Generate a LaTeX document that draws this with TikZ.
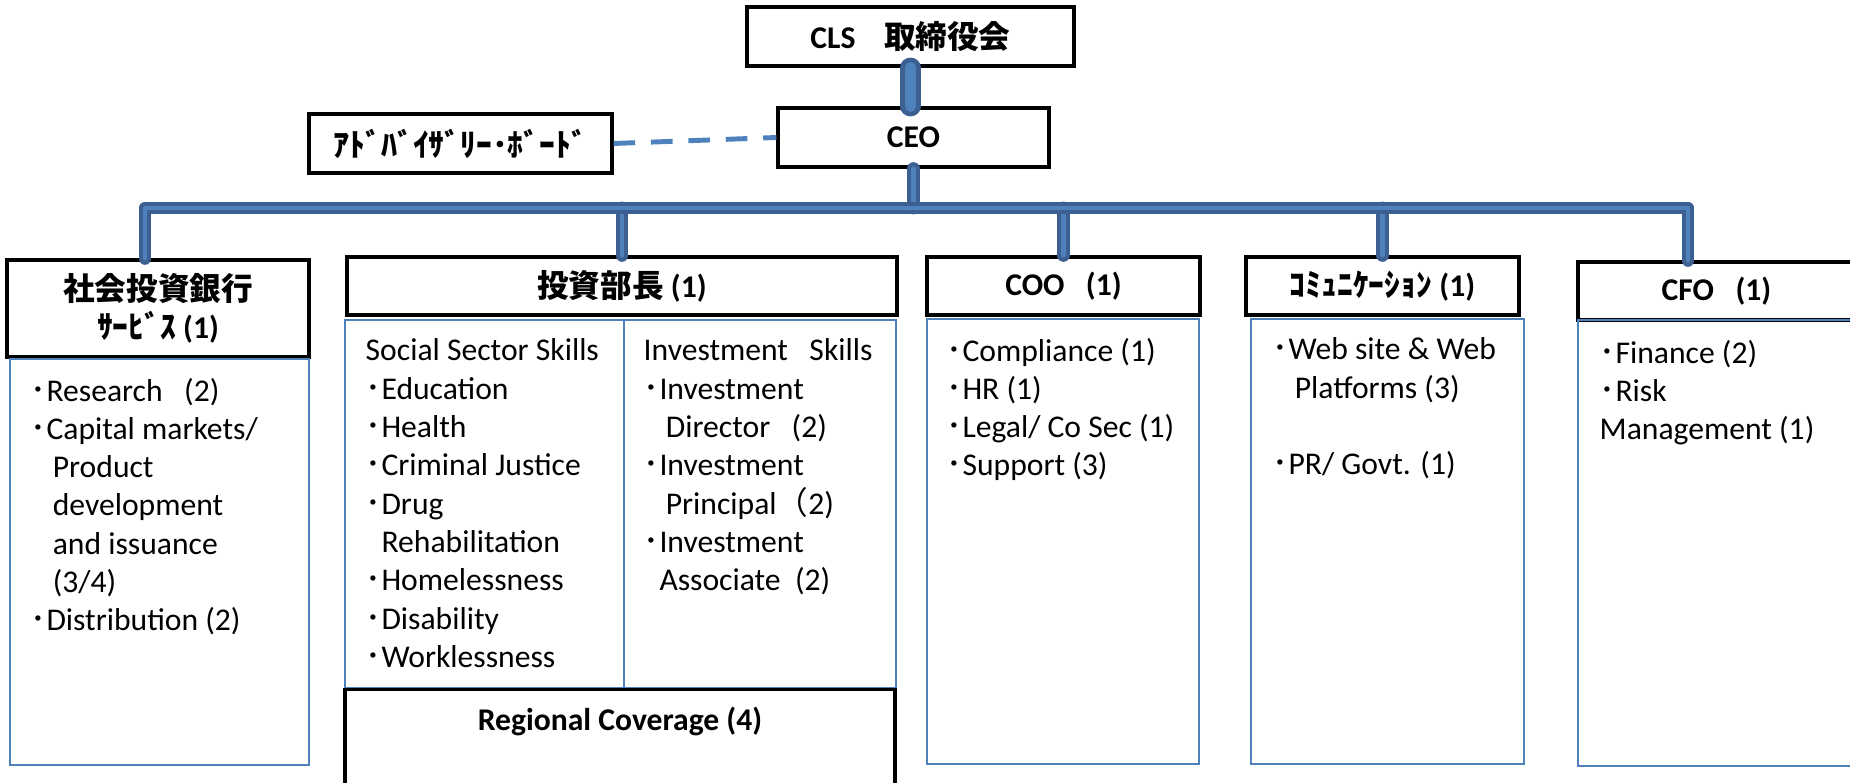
\documentclass[tikz,border=0pt]{standalone}
\usepackage{fontspec}
\setmainfont{Carlito}
\newfontfamily\jp{Noto Sans CJK JP}
\usepackage{tikz}

\definecolor{trunkdark}{RGB}{60,96,146}
\definecolor{trunklight}{RGB}{79,129,189}
\definecolor{boxblue}{RGB}{79,129,189}

\newcommand{\itm}{{\jp ･}}
\newcommand{\cont}{\hspace*{0.7em}}

\tikzset{
	hdbox/.style={rectangle, draw, line width=0.9pt, align=center, inner sep=0pt, font=\bfseries\fontsize{9}{11}\selectfont},
	bodybox/.style={rectangle, draw=boxblue, line width=0.8pt, inner sep=0pt},
	bodytext/.style={anchor=north west, align=left, inner sep=0pt, font=\fontsize{9}{10.9}\selectfont, execute at begin node=\strut},
	trunk/.style={draw=trunkdark, line width=1.25pt, double=trunklight, double distance=1.15pt, line cap=round, line join=round},
	dashlink/.style={draw=boxblue, line width=1.4pt, dash pattern=on 6.15pt off 4.5pt}
}

\begin{document}
\begin{tikzpicture}
			\path[use as bounding box, clip] (0,0) rectangle (18.5,-7.83);

			\node[hdbox, minimum width=3.27cm, minimum height=0.59cm] (cls) at(9.105,-0.365){CLS~~~~{\jp 取締役会}};
			\node[hdbox, minimum width=2.71cm, minimum height=0.59cm] (ceo) at(9.135,-1.375){CEO};
			\node[hdbox, minimum width=3.03cm, minimum height=0.59cm] (adv) at(4.605,-1.435){\jp ｱﾄﾞﾊﾞｲｻﾞﾘｰ･ﾎﾞｰﾄﾞ};

			\node[hdbox, minimum width=3.02cm, minimum height=0.97cm] (socialhd) at(1.58,-3.085){{\jp 社会投資銀行}\\{\jp ｻｰﾋﾞｽ} (1)};
			\node[hdbox, minimum width=5.50cm, minimum height=0.58cm] (invhd) at(6.22,-2.86){{\jp 投資部長} (1)};
			\node[hdbox, minimum width=2.73cm, minimum height=0.58cm] (coohd) at(10.635,-2.86){COO~~~(1)};
			\node[hdbox, minimum width=2.73cm, minimum height=0.58cm] (commhd) at(13.825,-2.86){{\jp ｺﾐｭﾆｹｰｼｮﾝ} (1)};
			\node[hdbox, minimum width=2.77cm, minimum height=0.58cm] (cfohd) at(17.165,-2.91){CFO~~~(1)};

			\node[bodybox, minimum width=2.99cm, minimum height=4.06cm] (socialbody) at(1.595,-5.62){};
			\node[bodybox, minimum width=5.51cm, minimum height=3.68cm] (invbody) at(6.205,-5.04){};
			\draw[boxblue, line width=0.8pt] ([xshift=0.35mm]invbody.north) -- ([xshift=0.35mm]invbody.south);
			\node[hdbox, anchor=north, minimum width=5.50cm, minimum height=1.40cm] (regional) at(6.20,-6.88){};
			\node[bodybox, minimum width=2.72cm, minimum height=4.45cm] (coobody) at(10.63,-5.415){};
			\node[bodybox, minimum width=2.73cm, minimum height=4.45cm] (commbody) at(13.875,-5.415){};
			\node[bodybox, minimum width=2.77cm, minimum height=4.46cm] (cfobody) at(17.165,-5.43){};

			\node[bodytext] (socialtxt) at(0.30,-3.772){\itm Research~~~(2)\\ \itm Capital markets/\\ \cont Product\\ \cont development\\ \cont and issuance\\ \cont (3/4)\\ \itm Distribution (2)};
			\node[bodytext] (sectortxt) at(3.65,-3.382){Social Sector Skills\\ \itm Education\\ \itm Health\\ \itm Criminal Justice\\ \itm Drug\\ \hspace*{0.5em}Rehabilitation\\ \itm Homelessness\\ \itm Disability\\ \itm Worklessness};
			\node[bodytext] (skillstxt) at(6.43,-3.382){Investment~~~Skills\\ \itm Investment\\ \cont Director~~~(2)\\ \itm Investment\\ \cont Principal{\jp （}2)\\ \itm Investment\\ \hspace*{0.5em}Associate~~(2)};
			\node[anchor=base, font=\bfseries\fontsize{9}{11}\selectfont, inner sep=0pt] (regionaltxt) at(6.20,-7.31){Regional Coverage (4)};
			\node[bodytext] (cootxt) at(9.46,-3.372){\itm Compliance (1)\\ \itm HR (1)\\ \itm Legal/ Co Sec (1)\\ \itm Support (3)};
			\node[bodytext] (commtxt) at(12.72,-3.372){\itm Web site \& Web\\ \cont Platforms (3)\\~\\ \itm PR/ Govt. (1)};
			\node[bodytext] (cfotxt) at(15.99,-3.392){\itm Finance (2)\\ \itm Risk\\ Management (1)};

			\coordinate (busL) at(1.45,-2.08);
			\coordinate (busR) at(16.88,-2.08);
			\draw[trunk, double distance=3.1pt, line width=1.3pt] (cls.south) -- (cls.south |- ceo.north);
			\draw[dashlink] (adv.east) -- (ceo.west);
			\draw[trunk] (ceo.south) -- (ceo.south |- busL);
			\draw[trunk] (invhd.north |- busL) -- (invhd.north);
			\draw[trunk] (coohd.north |- busL) -- (coohd.north);
			\draw[trunk] (commhd.north |- busL) -- (commhd.north);
			\draw[trunk] (busL |- socialhd.north) -- (busL) -- (busR) -- (busR |- cfohd.north);
		\end{tikzpicture}
\end{document}
